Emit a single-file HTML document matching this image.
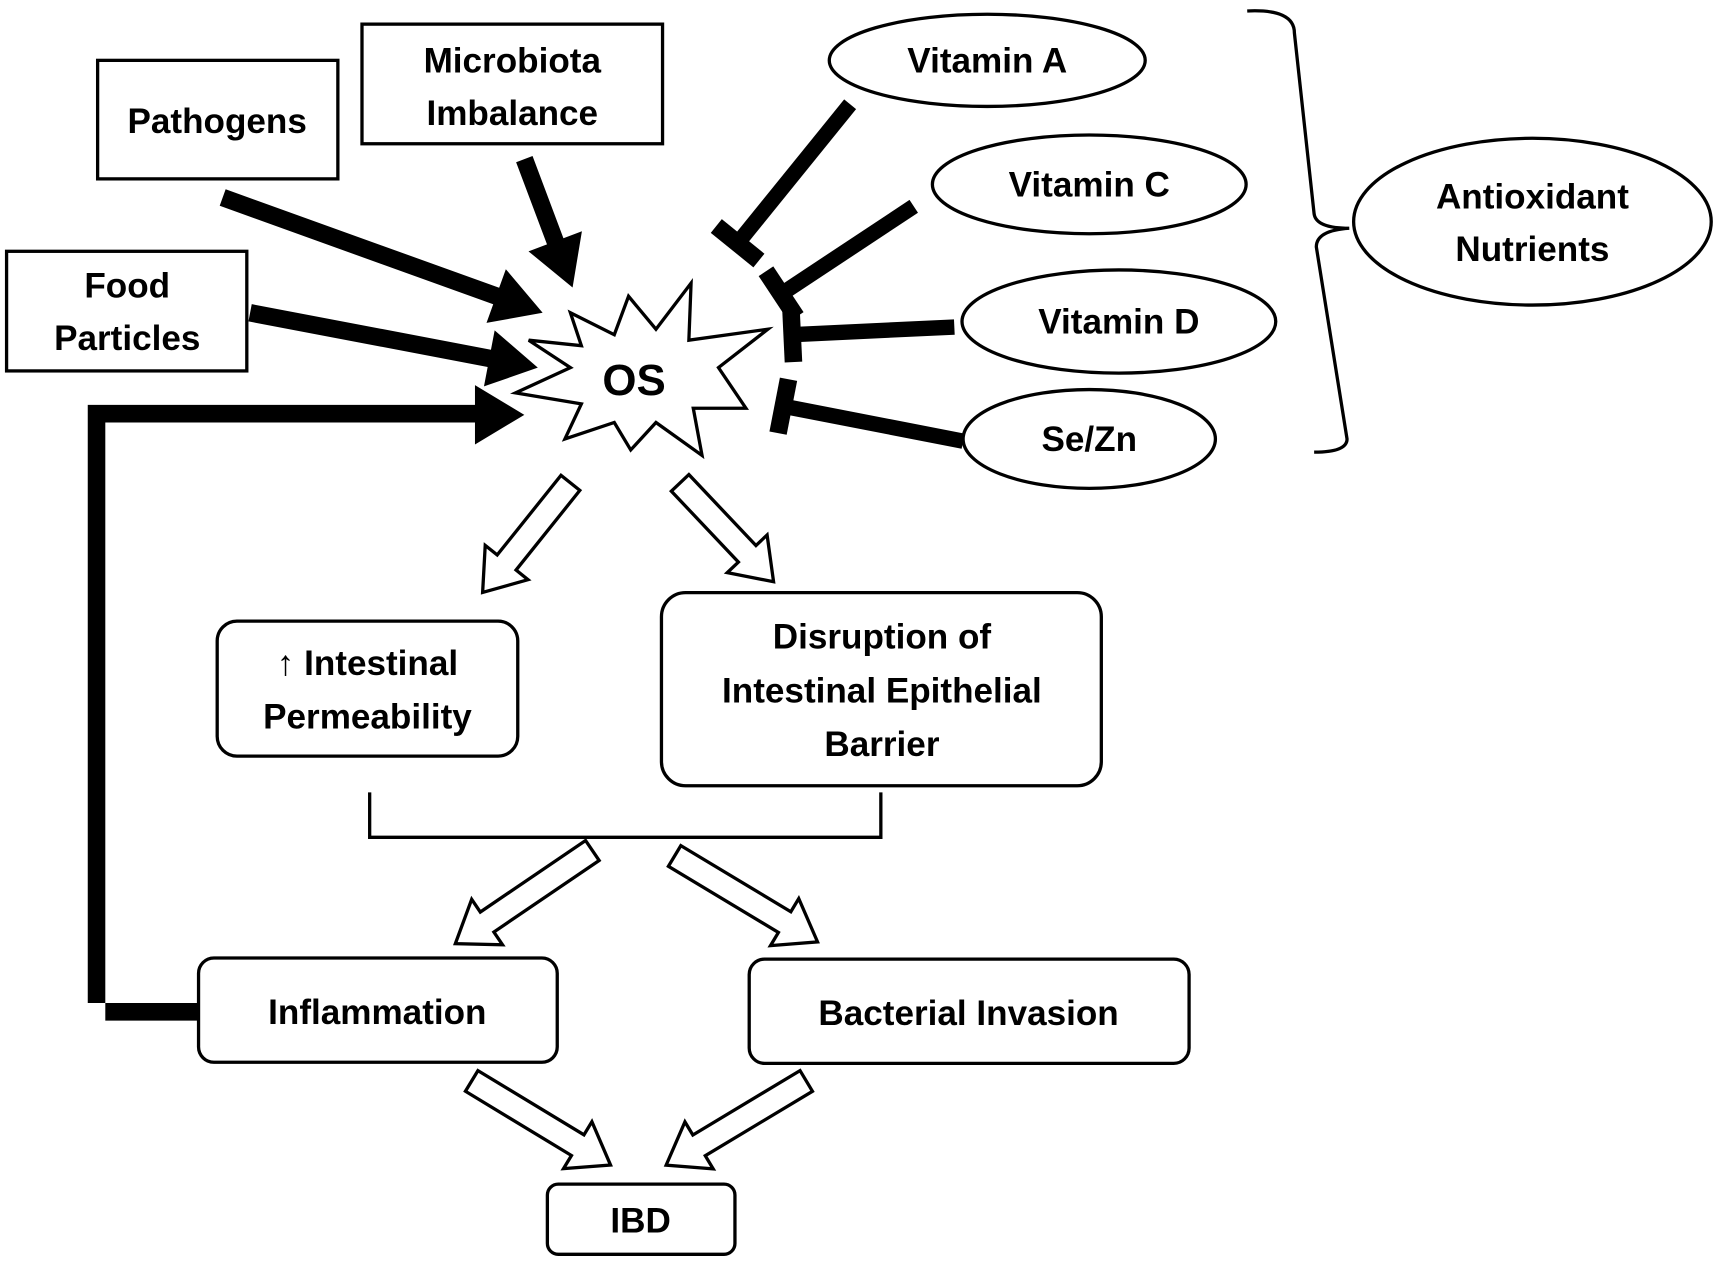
<!DOCTYPE html>
<html><head><meta charset="utf-8"><style>
html,body{margin:0;padding:0;background:#fff}
svg{display:block}
text{font-family:"Liberation Sans",sans-serif;font-weight:bold;font-size:32px;fill:#000;text-anchor:middle}
</style></head><body>
<svg width="1720" height="1262" viewBox="0 0 1568 1150" preserveAspectRatio="none" xmlns="http://www.w3.org/2000/svg">
<rect width="1568" height="1150" fill="#fff"/>
<g fill="#fff" stroke="#000" stroke-width="3">
<rect x="89" y="55" width="219" height="108"/>
<rect x="330" y="22" width="274" height="109"/>
<rect x="6" y="229" width="219" height="109"/>
<ellipse cx="900" cy="55" rx="144" ry="42"/>
<ellipse cx="993" cy="168" rx="143" ry="45"/>
<ellipse cx="1020" cy="293" rx="143" ry="47"/>
<ellipse cx="993" cy="400" rx="115" ry="45"/>
<ellipse cx="1397" cy="202" rx="163" ry="76"/>
<rect x="198" y="566" width="274" height="123" rx="18"/>
<rect x="603" y="540" width="401" height="176" rx="22"/>
<rect x="181" y="873" width="327" height="95" rx="14"/>
<rect x="683" y="874" width="401" height="95" rx="14"/>
<rect x="499" y="1079" width="171" height="64" rx="10"/>
<polygon points="520,285 560,305 573,270 598,300 630,258 628,310 700,300 655,335 680,372 632,372 640,415 598,385 575,410 560,385 515,400 530,368 470,358 520,335 482,310 530,315"/>
</g>
<path d="M1137,10 Q1180,8 1180,30 L1198,195 Q1200,208 1230,208 Q1200,210 1200,225 L1228,400 Q1228,412 1198,412" fill="none" stroke="#000" stroke-width="3"/>
<path d="M337,722 L337,763 L803,763 L803,722" fill="none" stroke="#000" stroke-width="3"/>
<!-- solid arrows -->
<g fill="#000">
<g transform="translate(203,180) rotate(19.8)"><path d="M0,-8 L265,-8 L265,-26 L310,0 L265,26 L265,8 L0,8Z"/></g>
<g transform="translate(478,145) rotate(69.4)"><path d="M0,-8 L80,-8 L80,-26 L125,0 L80,26 L80,8 L0,8Z"/></g>
<g transform="translate(228,285) rotate(10.8)"><path d="M0,-8 L222,-8 L222,-26 L267,0 L222,26 L222,8 L0,8Z"/></g>
<path d="M180,914 L80,914 L80,369 L433,369 L433,351 L478,378 L433,405 L433,385 L96,385 L96,930 L180,930Z"/>
</g>
<!-- inhibitors -->
<g fill="#000" stroke="#000">
<g transform="translate(775,95) rotate(129)"><line x1="0" y1="0" x2="163" y2="0" stroke-width="14"/><rect x="155" y="-25" width="16" height="50" stroke="none"/></g>
<g transform="translate(833,188) rotate(146.5)"><line x1="0" y1="0" x2="145" y2="0" stroke-width="14"/><rect x="137" y="-25" width="16" height="50" stroke="none"/></g>
<g transform="translate(870,298) rotate(177.3)"><line x1="0" y1="0" x2="148" y2="0" stroke-width="14"/><rect x="140" y="-25" width="16" height="50" stroke="none"/></g>
<g transform="translate(878,402) rotate(191)"><line x1="0" y1="0" x2="167" y2="0" stroke-width="14"/><rect x="159" y="-25" width="16" height="50" stroke="none"/></g>
</g>
<!-- hollow arrows -->
<g fill="#fff" stroke="#000" stroke-width="3">
<g transform="translate(520,440) rotate(128.7)"><path d="M0,-11 L93,-11 L93,-25 L128,0 L93,25 L93,11 L0,11Z"/></g>
<g transform="translate(620,440) rotate(46.6)"><path d="M0,-11 L89,-11 L89,-25 L124,0 L89,25 L89,11 L0,11Z"/></g>
<g transform="translate(540,775) rotate(145.8)"><path d="M0,-11 L116,-11 L116,-25 L151,0 L116,25 L116,11 L0,11Z"/></g>
<g transform="translate(615,780) rotate(31)"><path d="M0,-11 L117,-11 L117,-25 L152,0 L117,25 L117,11 L0,11Z"/></g>
<g transform="translate(430,985) rotate(31.2)"><path d="M0,-11 L113,-11 L113,-25 L148,0 L113,25 L113,11 L0,11Z"/></g>
<g transform="translate(735,985) rotate(149)"><path d="M0,-11 L114,-11 L114,-25 L149,0 L114,25 L114,11 L0,11Z"/></g>
</g>
<text x="198" y="121">Pathogens</text>
<text x="467" y="66">Microbiota</text>
<text x="467" y="114">Imbalance</text>
<text x="116" y="271">Food</text>
<text x="116" y="319">Particles</text>
<text x="900" y="66">Vitamin A</text>
<text x="993" y="179">Vitamin C</text>
<text x="1020" y="304">Vitamin D</text>
<text x="993" y="411">Se/Zn</text>
<text x="1397" y="190">Antioxidant</text>
<text x="1397" y="238">Nutrients</text>
<text x="578" y="360" style="font-size:40px">OS</text>
<text x="335" y="615">↑ Intestinal</text>
<text x="335" y="664">Permeability</text>
<text x="804" y="591">Disruption of</text>
<text x="804" y="640">Intestinal Epithelial</text>
<text x="804" y="689">Barrier</text>
<text x="344" y="933">Inflammation</text>
<text x="883" y="934">Bacterial Invasion</text>
<text x="584" y="1123">IBD</text>
</svg>
</body></html>
